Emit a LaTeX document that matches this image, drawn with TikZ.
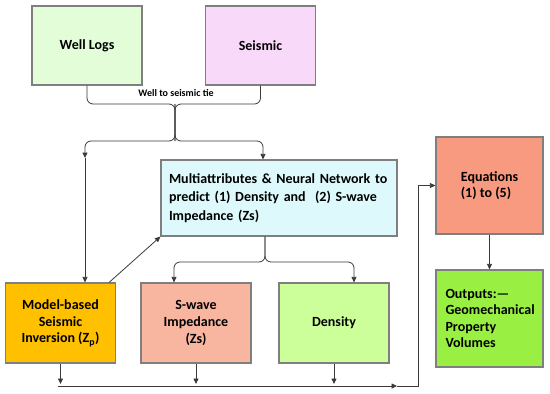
\documentclass[tikz,border=0pt]{standalone}
\usepackage{fontspec}
\setmainfont{Carlito}
\usetikzlibrary{arrows.meta, positioning}

\definecolor{wellgreen}{HTML}{E2FDD8}
\definecolor{seismicpink}{HTML}{F9D9F9}
\definecolor{multicyan}{HTML}{DDF9FC}
\definecolor{modelorange}{HTML}{FFC000}
\definecolor{swavesalmon}{HTML}{F8B5A0}
\definecolor{densitygreen}{HTML}{CCFF99}
\definecolor{eqnsalmon}{HTML}{F79A80}
\definecolor{outgreen}{HTML}{99F042}
\definecolor{boxgray}{HTML}{7F7F7F}
\definecolor{linegray}{HTML}{3A3A3A}

\begin{document}
\begin{tikzpicture}[
    x=1pt, y=-1pt,
    node distance=137pt,
    inputbox/.style={rectangle, minimum width=110pt, minimum height=79pt, text centered, draw=boxgray, line width=1.2pt, font=\bfseries\fontsize{14}{17}\selectfont},
    process/.style={rectangle, minimum width=236pt, minimum height=76pt, text width=220pt, align=left, draw=boxgray, line width=1.2pt, fill=multicyan, font=\bfseries\fontsize{14}{18.5}\selectfont},
    resultbox/.style={rectangle, minimum width=110pt, minimum height=80pt, align=center, draw=boxgray, line width=1.2pt, font=\bfseries\fontsize{14}{16.8}\selectfont},
    finalbox/.style={rectangle, minimum width=107pt, minimum height=97pt, align=left, draw=boxgray, line width=1.2pt, font=\bfseries\fontsize{14}{16.4}\selectfont},
    line/.style={line width=0.8pt, draw=linegray},
    arrow/.style={line, -{Triangle[length=5.5pt, width=5pt]}}
]

\useasboundingbox (0,0) rectangle (550,394);

% inputs
\node (wells) [inputbox, fill=wellgreen] at (87,45.5) {Well Logs};
\node (seismic) [inputbox, fill=seismicpink, right of=wells, xshift=36.5pt] {Seismic};

% prediction
\node (multi) [process] at (279,198) {Multiattributes \& Neural Network to\\predict (1) Density and~ (2) S-wave\\Impedance (Zs)};

% results
\node (model) [resultbox, fill=modelorange] at (60.5,323) {Model-based\\Seismic\\Inversion (Z\textsubscript{p})};
\node (swave) [resultbox, fill=swavesalmon, right of=model, xshift=-1.5pt] {S-wave\\Impedance\\(Zs)};
\node (density) [resultbox, fill=densitygreen, right of=swave, xshift=1pt] {Density};

% equations and outputs
\node (eqn) [finalbox, fill=eqnsalmon] at (489.5,185.5) {Equations\\(1) to (5)};
\node (outputs) [finalbox, text width=88pt, fill=outgreen, below of=eqn, yshift=4pt] {Outputs:—\\Geomechanical\\Property\\Volumes};

% well to seismic tie
\coordinate (tie) at (175,104);
\coordinate (split) at (175,141);
\coordinate (midL) at (85,158);
\node (tielabel) [font=\bfseries\fontsize{10}{12}\selectfont] at (176,93) {Well to seismic tie};

\draw [line, rounded corners=6pt] (wells.south) |- (tie) -- (split);
\draw [line, rounded corners=6pt] (seismic.south) |- (tie) -- (split);
\draw [arrow, rounded corners=6pt] (tie) -- (split) -| (midL);
\draw [arrow] (midL) -- (model.north -| midL);
\draw [arrow, rounded corners=6pt] (tie) -- (split) -| ([xshift=-16pt]multi.north);

\draw [arrow] ([xshift=-7pt]model.north east) -- (multi.south west);

% split to results
\coordinate (fork) at (265,262);
\draw [arrow, rounded corners=6pt] ([xshift=-14pt]multi.south) -- (fork) -| ([xshift=-22pt]swave.north);
\draw [arrow, rounded corners=6pt] ([xshift=-14pt]multi.south) -- (fork) -| ([xshift=20pt]density.north);

% collect to equations
\coordinate (busL) at (58,386);
\coordinate (busM) at (397,386);
\coordinate (riser) at (418,386);
\draw [arrow] (model.south) -- (model.south |- 0,384);
\draw [arrow] (swave.south) -- (swave.south |- 0,384);
\draw [arrow] (density.south) -- (density.south |- 0,384);
\draw [arrow] (busL) -- (busM);
\draw [arrow] (busM) -- (riser) |- (eqn.west);
\draw [arrow] (eqn.south) -- (outputs.north);

\end{tikzpicture}
\end{document}
